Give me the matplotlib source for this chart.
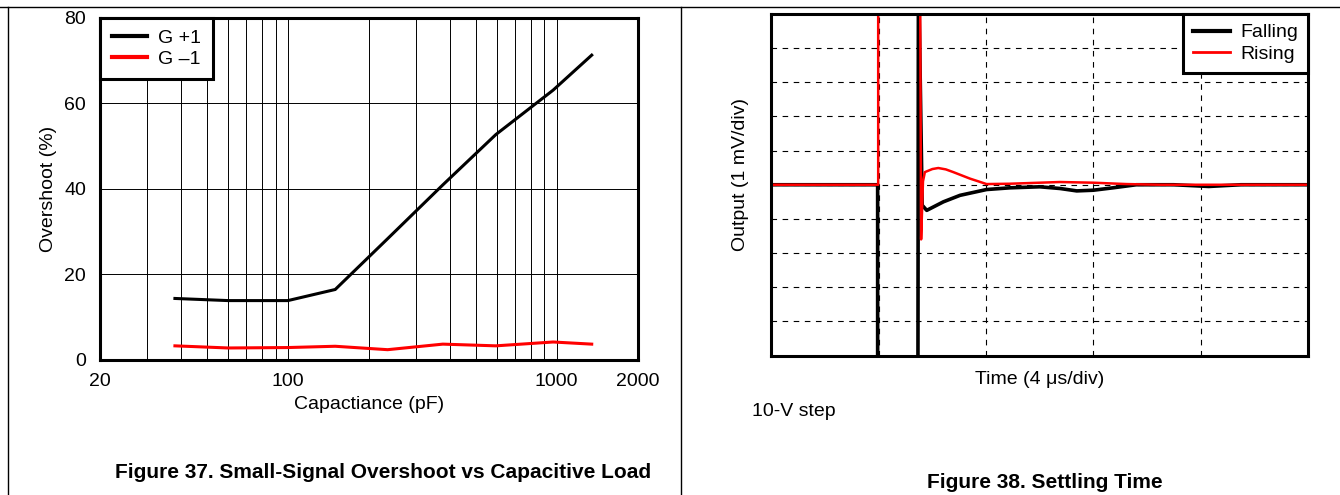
import matplotlib
matplotlib.use('Agg')
import matplotlib.pyplot as plt
from matplotlib.lines import Line2D
from matplotlib.ticker import LogLocator, NullFormatter, FixedLocator, FixedFormatter

plt.rcParams['font.family'] = ['Liberation Sans', 'DejaVu Sans']

W, H = 1340, 495

# Figure 37: overshoot vs capacitive load
cap_pf = [38, 60, 100, 150, 235, 377, 594, 970, 1350]
g_pos1 = [14.3, 13.8, 13.8, 16.4, 28.3, 40.9, 52.7, 63.1, 71.3]
g_neg1 = [3.2, 2.7, 2.8, 3.1, 2.3, 3.6, 3.2, 4.1, 3.6]
cap_ticks = [20, 100, 1000, 2000]
cap_labels = ['20', '100', '1000', '2000']
overshoot_ticks = [0, 20, 40, 60, 80]

# Figure 38: settling time (t in us, output in mV = divisions)
fall_t = [0, 3.96, 3.96, 5.46, 5.48, 5.62, 5.79, 6.41, 7.03, 8.02, 8.89, 10.0,
          10.76, 11.38, 12.0, 12.73, 13.6, 15.0, 16.3, 17.5, 20]
fall_v = [0, 0, -6.5, -6.5, 6.5, -0.6, -0.75, -0.5, -0.31, -0.14, -0.09, -0.06,
          -0.11, -0.18, -0.16, -0.09, 0, 0, -0.05, 0, 0]
rise_t = [0, 3.98, 3.98, 5.54, 5.58, 5.65, 5.72, 6.0, 6.22, 6.5, 6.78, 7.4, 8.02,
          8.89, 10.0, 10.75, 12.0, 13.24, 14.5, 20]
rise_v = [0, 0, 6.5, 6.5, -1.6, 0.1, 0.37, 0.46, 0.49, 0.45, 0.37, 0.18, 0.02,
          0.03, 0.06, 0.08, 0.06, 0.02, 0, 0]


def px_box(x0, y0, x1, y1):
    # pixel box (top-left origin) -> figure fraction rect
    return [x0 / W, 1 - y1 / H, (x1 - x0) / W, (y1 - y0) / H]


def fx(x):
    return x / W


def fy(y):
    return 1 - y / H


fig = plt.figure(figsize=(W / 100, H / 100), dpi=100)

# page / table border lines
for xs, ys in [([0, W], [7, 7]), ([8, 8], [7, H]), ([681, 681], [7, H])]:
    fig.add_artist(Line2D([fx(x) for x in xs], [fy(y) for y in ys], color='black', lw=1.0))

# ---- left panel
ax1 = fig.add_axes(px_box(100, 18, 637.6, 359.5))
ax1.plot(cap_pf, g_pos1, color='black', lw=2.2, label='G +1', solid_joinstyle='miter')
ax1.plot(cap_pf, g_neg1, color='#ff0000', lw=2.2, label='G \u20131')
ax1.set_xscale('log')
ax1.set_xlim(20, 2000)
ax1.set_ylim(0, 80)
ax1.xaxis.set_major_locator(FixedLocator(cap_ticks))
ax1.xaxis.set_major_formatter(FixedFormatter(cap_labels))
ax1.xaxis.set_minor_locator(LogLocator(base=10, subs=range(2, 10)))
ax1.xaxis.set_minor_formatter(NullFormatter())
ax1.set_yticks(overshoot_ticks)
ax1.grid(True, which='both', color='black', lw=0.7)
ax1.tick_params(which='both', length=0, labelsize=14, pad=10)
ax1.set_axisbelow(True)
for s in ax1.spines.values():
    s.set_linewidth(2.2)
ax1.set_xlabel('Capactiance (pF)', fontsize=14, labelpad=4)
ax1.set_ylabel('Overshoot (%)', fontsize=14, labelpad=5)
leg1 = ax1.legend(loc='upper left', borderaxespad=0, fancybox=False, framealpha=1,
                  edgecolor='black', fontsize=14, handlelength=1.8, handletextpad=0.6,
                  labelspacing=0.15, borderpad=0.6)
leg1.get_frame().set_linewidth(2.2)
for h in leg1.get_lines():
    h.set_linewidth(3)

fig.text(fx(383), fy(472), 'Figure 37. Small-Signal Overshoot vs Capacitive Load',
         fontsize=15, fontweight='bold', ha='center', va='center',
         family=['Liberation Sans Narrow', 'Liberation Sans', 'DejaVu Sans'])

# ---- right panel
ax2 = fig.add_axes(px_box(771.4, 14, 1308, 355.5))
ax2.plot(fall_t, fall_v, color='black', lw=2.6, label='Falling')
ax2.plot(rise_t, rise_v, color='#ff0000', lw=1.8, label='Rising')
ax2.set_xlim(0, 20)
ax2.set_ylim(-5, 5)
ax2.set_xticks([4, 8, 12, 16])
ax2.set_yticks([-4, -3, -2, -1, 0, 1, 2, 3, 4])
ax2.grid(True, color='black', lw=0.8, linestyle=(0, (5, 5)))
ax2.set_axisbelow(True)
ax2.tick_params(length=0, labelbottom=False, labelleft=False)
for s in ax2.spines.values():
    s.set_linewidth(2.2)
ax2.set_xlabel('Time (4 \u03bcs/div)', fontsize=14, labelpad=11)
ax2.set_ylabel('Output (1 mV/div)', fontsize=14)
ax2.yaxis.set_label_coords(-0.042, 0.53)
leg2 = ax2.legend(loc='upper right', borderaxespad=0, fancybox=False, framealpha=1,
                  edgecolor='black', fontsize=14, handlelength=1.9, handletextpad=0.55,
                  labelspacing=0.2, borderpad=0.5)
leg2.get_frame().set_linewidth(2.2)
leg2.get_lines()[0].set_linewidth(3)
leg2.get_lines()[1].set_linewidth(2)

fig.text(fx(752), fy(411), '10-V step', fontsize=14, ha='left', va='center')
fig.text(fx(1045), fy(483), 'Figure 38. Settling Time', fontsize=15, fontweight='bold',
         ha='center', va='center',
         family=['Liberation Sans Narrow', 'Liberation Sans', 'DejaVu Sans'])

fig.savefig('out.png', dpi=100)
